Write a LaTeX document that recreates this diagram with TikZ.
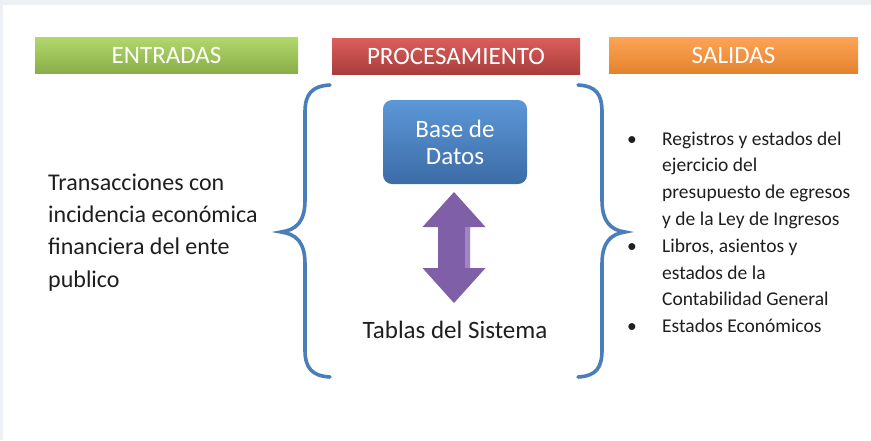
\documentclass[tikz,border=0pt]{standalone}
\usepackage{fontspec}
\setmainfont{Carlito}

\definecolor{fondo}{HTML}{EDF0F5}
\definecolor{verdeA}{HTML}{B2D86C}
\definecolor{verdeB}{HTML}{8AAE48}
\definecolor{rojoA}{HTML}{DA5E5B}
\definecolor{rojoB}{HTML}{A83D3B}
\definecolor{naranjaA}{HTML}{FDA455}
\definecolor{naranjaB}{HTML}{E4832E}
\definecolor{azulA}{HTML}{5C97D8}
\definecolor{azulB}{HTML}{3C6CA6}
\definecolor{llaveC}{HTML}{4A7EBB}
\definecolor{moradoC}{HTML}{7E5FA8}
\definecolor{textoC}{HTML}{1E1E1E}

\tikzset{
    titulo/.style={minimum height=36pt, inner sep=0pt, text=white,
        font=\fontsize{25}{30}\selectfont},
    llave/.style={draw=llaveC, line width=3.6pt, line cap=round},
}

\begin{document}
\begin{tikzpicture}[x=1pt, y=-1pt]
    \useasboundingbox (0,0) rectangle (871,440);
    \fill[fondo] (0,0) rectangle (871,5);
    \fill[fondo] (0,0) rectangle (3,440);

    % encabezados
    \node[titulo, minimum width=263pt, top color=verdeA, bottom color=verdeB] (entradas) at (166.5,55) {ENTRADAS};
    \node[titulo, minimum width=248pt, top color=rojoA, bottom color=rojoB] (proceso) at (456,56.5) {PROCESAMIENTO};
    \node[titulo, minimum width=249pt, top color=naranjaA, bottom color=naranjaB] (salidas) at (733.5,55) {SALIDAS};

    % entradas
    \node[anchor=base west, align=left, inner sep=0pt, text=textoC,
        font=\fontsize{24}{32.3}\selectfont] (transacciones) at (48,287)
        {Transacciones con\\incidencia económica\\financiera del ente\\publico};

    % procesamiento
    \node[minimum width=144pt, minimum height=84pt, rounded corners=9pt, inner sep=0pt,
        top color=azulA, bottom color=azulB, text=white, align=center,
        font=\fontsize{25}{27}\selectfont] (datos) at (455,142) {Base de\\Datos};
    \node[anchor=base, inner sep=0pt, text=textoC, font=\fontsize{25}{30}\selectfont]
        (tablas) at (455,338) {Tablas del Sistema};

    \fill[moradoC] (454,192) -- ++(31.5,35) -- ++(-15.5,0) -- ++(0,41) -- ++(15.5,0)
        -- ++(-31.5,35) -- ++(-31.5,-35) -- ++(15.5,0) -- ++(0,-41) -- ++(-15.5,0) -- cycle;
    \fill[moradoC!75!white] (465,227) rectangle (470,268);

    % llaves
    \draw[llave] (330,85) .. controls (312,86) and (305,94) .. (305,112) -- (305,200)
        .. controls (305,222) and (296,230) .. (281,232)
        .. controls (296,234) and (305,242) .. (305,264) -- (305,350)
        .. controls (305,368) and (312,376) .. (330,377);
    \draw[llave] (578,85) .. controls (596,86) and (602,94) .. (602,112) -- (602,200)
        .. controls (602,222) and (611,230) .. (625,232)
        .. controls (611,234) and (602,242) .. (602,264) -- (602,350)
        .. controls (602,368) and (596,376) .. (578,377);

    % salidas
    \node[anchor=base west, align=left, inner sep=0pt, text=textoC,
        font=\fontsize{19.5}{26.8}\selectfont] (lista) at (627,332.6)
        {\makebox[35pt][l]{\textbullet}Registros y estados del\\
         \hspace*{35pt}ejercicio del\\
         \hspace*{35pt}presupuesto de egresos\\
         \hspace*{35pt}y de la Ley de Ingresos\\
         \makebox[35pt][l]{\textbullet}Libros, asientos y\\
         \hspace*{35pt}estados de la\\
         \hspace*{35pt}Contabilidad General\\
         \makebox[35pt][l]{\textbullet}Estados Económicos};
\end{tikzpicture}
\end{document}
